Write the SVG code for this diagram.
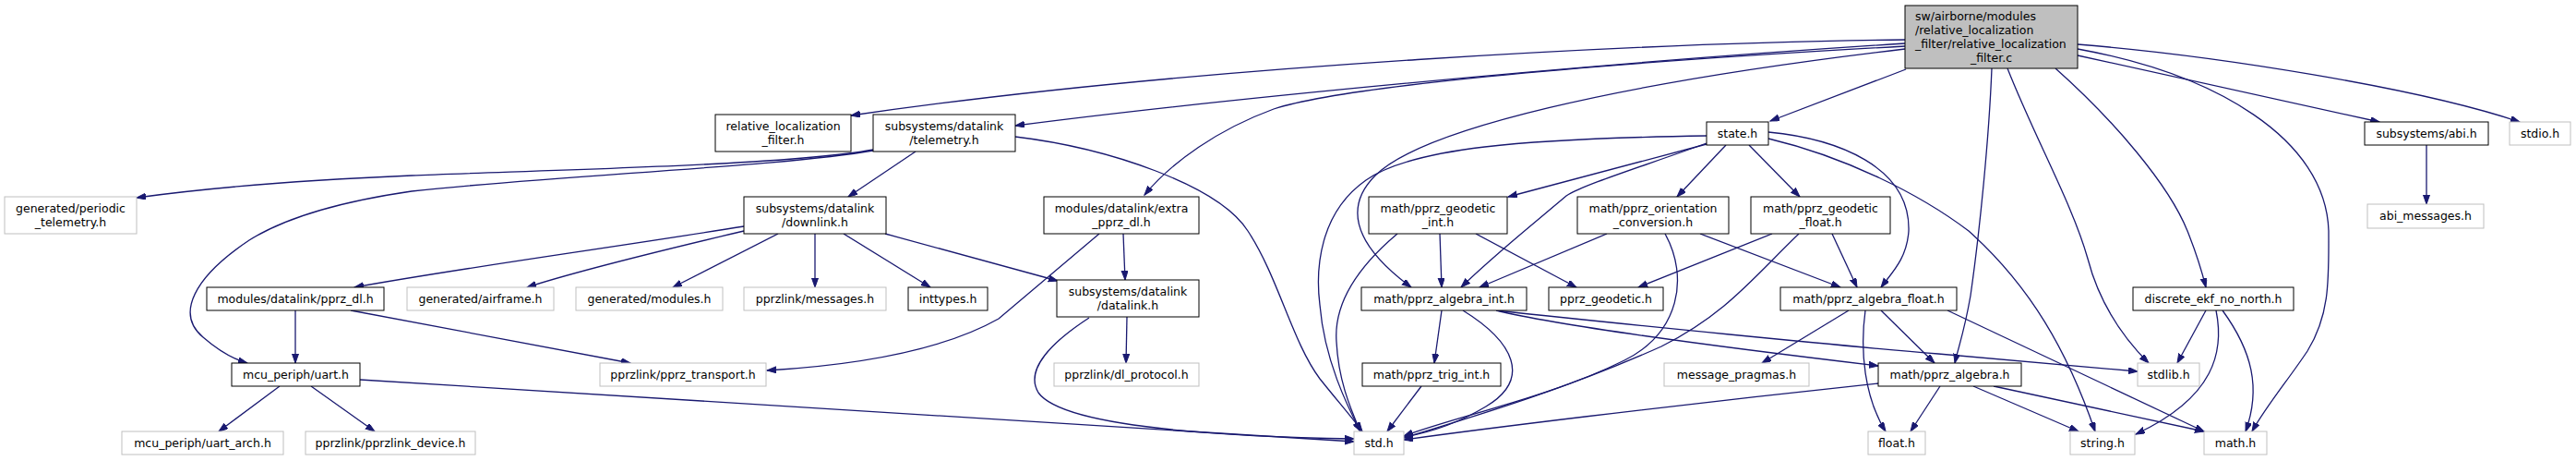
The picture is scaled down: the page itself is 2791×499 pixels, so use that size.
<svg xmlns="http://www.w3.org/2000/svg" width="2791" height="499" viewBox="0 0 2791 499">
<style>
rect{fill:#ffffff;stroke:#000000;stroke-width:1}
.u rect{stroke:#bfbfbf}
.m rect{fill:#bfbfbf}
text{font-family:"DejaVu Sans","Liberation Sans",sans-serif;font-size:12.5px;fill:#000;text-anchor:middle}
.l{text-anchor:start}
#edges path{fill:none;stroke:#191970;stroke-width:1.3;marker-end:url(#ah)}
</style>
<defs>
<marker id="ah" markerUnits="userSpaceOnUse" markerWidth="12" markerHeight="9" refX="10" refY="3.5" orient="auto">
<path d="M0,0 L10,3.5 L0,7 z" fill="#191970" stroke="#191970" stroke-width="1"/>
</marker>
</defs>
<rect x="0" y="0" width="2791" height="499" style="fill:#fff;stroke:none"/>
<g id="edges">
<path d="M2064,43 C1800,46 1300,70 922,125"/>
<path d="M2064,47 C1700,70 1300,110 1100,136"/>
<path d="M2064,50 C1700,70 1450,95 1380,118 C1320,140 1270,175 1240,211"/>
<path d="M2065,75 L1918,131"/>
<path d="M2064,53 C1750,90 1540,140 1490,190 C1460,220 1460,260 1529,311"/>
<path d="M2158,74 C2155,150 2145,250 2135,320 C2128,360 2122,375 2118,393"/>
<path d="M2175,74 C2205,150 2245,220 2262,280 C2275,330 2300,365 2328,393"/>
<path d="M2227,74 C2290,130 2350,200 2370,250 C2380,275 2386,295 2390,311"/>
<path d="M2251,53 C2400,80 2520,150 2523,250 C2523,300 2525,340 2500,380 C2480,410 2455,440 2440,467"/>
<path d="M2251,60 L2578,132"/>
<path d="M2251,48 C2400,60 2620,95 2730,132"/>
<path d="M1849,156 L1634,213"/>
<path d="M1870,157 L1817,213"/>
<path d="M1895,157 L1950,213"/>
<path d="M1849,155 C1780,180 1715,200 1697,212 C1670,235 1620,275 1583,311"/>
<path d="M1916,143 C1990,150 2070,180 2068,250 C2066,280 2050,295 2038,311"/>
<path d="M1916,150 C2000,170 2080,210 2133,250 C2200,310 2240,380 2270,467"/>
<path d="M1849,147 C1650,150 1530,160 1480,195 C1430,230 1425,290 1430,330 C1435,390 1460,440 1474,467"/>
<path d="M946,162 C850,180 550,185 446,190 C350,194 250,200 148,214"/>
<path d="M946,163 C850,180 600,190 446,207 C370,218 310,235 270,260 C210,300 190,340 220,365 C235,378 250,388 268,393"/>
<path d="M992,164 L919,213"/>
<path d="M1100,148 C1200,160 1320,200 1352,250 C1385,300 1400,370 1430,410 C1450,435 1465,452 1476,467"/>
<path d="M806,245 C650,270 500,290 384,311"/>
<path d="M806,250 C700,275 620,295 571,311"/>
<path d="M843,253 L729,311"/>
<path d="M883,253 L883,311"/>
<path d="M914,253 L1008,311"/>
<path d="M959,253 L1146,304"/>
<path d="M1217,253 L1219,303"/>
<path d="M1191,253 L1082,345 C1020,380 930,395 831,401"/>
<path d="M320,336 L320,393"/>
<path d="M380,336 L683,393"/>
<path d="M303,418 L237,467"/>
<path d="M337,418 L406,467"/>
<path d="M390,411 C800,436 1200,463 1467,478"/>
<path d="M1221,343 L1220,393"/>
<path d="M1180,344 C1140,370 1110,400 1125,425 C1150,460 1300,472 1467,475"/>
<path d="M1560,253 L1562,311"/>
<path d="M1599,253 L1708,311"/>
<path d="M1514,253 C1470,290 1445,330 1448,370 C1450,410 1462,440 1474,467"/>
<path d="M1741,253 L1603,311"/>
<path d="M1842,253 L1994,311"/>
<path d="M1804,253 C1830,300 1820,360 1760,390 C1680,430 1580,450 1521,472"/>
<path d="M1920,253 L1775,311"/>
<path d="M1985,253 L2012,311"/>
<path d="M1949,253 C1900,300 1870,340 1800,375 C1700,420 1600,450 1521,474"/>
<path d="M1562,336 L1554,393"/>
<path d="M1585,336 C1640,370 1660,410 1610,440 C1580,458 1550,468 1521,473"/>
<path d="M1621,336 C1700,355 1900,380 2035,396"/>
<path d="M1621,336 C1750,350 2000,375 2100,383 L2316,402"/>
<path d="M1540,418 L1503,467"/>
<path d="M2003,336 L1909,393"/>
<path d="M2021,336 C2015,380 2020,430 2043,467"/>
<path d="M2038,336 L2096,393"/>
<path d="M2110,336 L2388,467"/>
<path d="M2035,415 C1800,440 1600,465 1521,476"/>
<path d="M2102,418 L2070,467"/>
<path d="M2138,418 L2252,467"/>
<path d="M2160,418 L2388,467"/>
<path d="M2390,336 L2359,393"/>
<path d="M2401,336 C2410,380 2400,430 2314,470"/>
<path d="M2408,336 C2440,380 2450,420 2433,467"/>
<path d="M2629,157 L2629,221"/>
</g>
<g id="n_main" class="m"><rect x="2064" y="6" width="187" height="68"/><text class="l" x="2075" y="22">sw/airborne/modules</text><text class="l" x="2075" y="37">/relative_localization</text><text class="l" x="2075" y="52">_filter/relative_localization</text><text x="2157.5" y="67">_filter.c</text></g>
<g id="n_relfilter"><rect x="775" y="124" width="147" height="40"/><text x="848.5" y="140.5">relative_localization</text><text x="848.5" y="155.5">_filter.h</text></g>
<g id="n_telemetry"><rect x="946" y="124" width="154" height="40"/><text x="1023" y="140.5">subsystems/datalink</text><text x="1023" y="155.5">/telemetry.h</text></g>
<g id="n_state"><rect x="1849" y="132" width="67" height="25"/><text x="1882.5" y="148.5">state.h</text></g>
<g id="n_abi"><rect x="2562" y="132" width="134" height="25"/><text x="2629" y="148.5">subsystems/abi.h</text></g>
<g id="n_stdio" class="u"><rect x="2719" y="132" width="66" height="25"/><text x="2752" y="148.5">stdio.h</text></g>
<g id="n_periodic" class="u"><rect x="5" y="213" width="143" height="40"/><text x="76.5" y="229.5">generated/periodic</text><text x="76.5" y="244.5">_telemetry.h</text></g>
<g id="n_downlink"><rect x="806" y="213" width="154" height="40"/><text x="883" y="229.5">subsystems/datalink</text><text x="883" y="244.5">/downlink.h</text></g>
<g id="n_extra"><rect x="1131" y="213" width="168" height="40"/><text x="1215" y="229.5">modules/datalink/extra</text><text x="1215" y="244.5">_pprz_dl.h</text></g>
<g id="n_geoint"><rect x="1483" y="213" width="150" height="40"/><text x="1558" y="229.5">math/pprz_geodetic</text><text x="1558" y="244.5">_int.h</text></g>
<g id="n_orient"><rect x="1709" y="213" width="164" height="40"/><text x="1791" y="229.5">math/pprz_orientation</text><text x="1791" y="244.5">_conversion.h</text></g>
<g id="n_geofloat"><rect x="1897" y="213" width="151" height="40"/><text x="1972.5" y="229.5">math/pprz_geodetic</text><text x="1972.5" y="244.5">_float.h</text></g>
<g id="n_abimsg" class="u"><rect x="2565" y="221" width="126" height="26"/><text x="2628" y="238">abi_messages.h</text></g>
<g id="n_pprzdl"><rect x="224" y="311" width="192" height="25"/><text x="320" y="327.5">modules/datalink/pprz_dl.h</text></g>
<g id="n_airframe" class="u"><rect x="441" y="311" width="159" height="25"/><text x="520.5" y="327.5">generated/airframe.h</text></g>
<g id="n_modules" class="u"><rect x="624" y="311" width="159" height="25"/><text x="703.5" y="327.5">generated/modules.h</text></g>
<g id="n_messages" class="u"><rect x="806" y="311" width="154" height="25"/><text x="883" y="327.5">pprzlink/messages.h</text></g>
<g id="n_inttypes"><rect x="984" y="311" width="86" height="25"/><text x="1027" y="327.5">inttypes.h</text></g>
<g id="n_datalink"><rect x="1145" y="303" width="154" height="40"/><text x="1222" y="319.5">subsystems/datalink</text><text x="1222" y="334.5">/datalink.h</text></g>
<g id="n_algint"><rect x="1475" y="311" width="179" height="25"/><text x="1564.5" y="327.5">math/pprz_algebra_int.h</text></g>
<g id="n_geodetic"><rect x="1678" y="311" width="124" height="25"/><text x="1740" y="327.5">pprz_geodetic.h</text></g>
<g id="n_algfloat"><rect x="1929" y="311" width="191" height="25"/><text x="2024.5" y="327.5">math/pprz_algebra_float.h</text></g>
<g id="n_ekf"><rect x="2311" y="311" width="174" height="25"/><text x="2398" y="327.5">discrete_ekf_no_north.h</text></g>
<g id="n_uart"><rect x="251" y="393" width="139" height="25"/><text x="320.5" y="409.5">mcu_periph/uart.h</text></g>
<g id="n_transport" class="u"><rect x="650" y="393" width="180" height="25"/><text x="740" y="409.5">pprzlink/pprz_transport.h</text></g>
<g id="n_dlproto" class="u"><rect x="1142" y="393" width="157" height="25"/><text x="1220.5" y="409.5">pprzlink/dl_protocol.h</text></g>
<g id="n_trig"><rect x="1476" y="393" width="150" height="25"/><text x="1551" y="409.5">math/pprz_trig_int.h</text></g>
<g id="n_pragmas" class="u"><rect x="1803" y="393" width="157" height="25"/><text x="1881.5" y="409.5">message_pragmas.h</text></g>
<g id="n_alg"><rect x="2035" y="393" width="155" height="25"/><text x="2112.5" y="409.5">math/pprz_algebra.h</text></g>
<g id="n_stdlib" class="u"><rect x="2316" y="393" width="67" height="25"/><text x="2349.5" y="409.5">stdlib.h</text></g>
<g id="n_uartarch" class="u"><rect x="132" y="467" width="175" height="25"/><text x="219.5" y="483.5">mcu_periph/uart_arch.h</text></g>
<g id="n_device" class="u"><rect x="331" y="467" width="184" height="25"/><text x="423" y="483.5">pprzlink/pprzlink_device.h</text></g>
<g id="n_std" class="u"><rect x="1467" y="467" width="54" height="25"/><text x="1494" y="483.5">std.h</text></g>
<g id="n_float" class="u"><rect x="2024" y="467" width="62" height="25"/><text x="2055" y="483.5">float.h</text></g>
<g id="n_string" class="u"><rect x="2243" y="467" width="70" height="25"/><text x="2278" y="483.5">string.h</text></g>
<g id="n_math" class="u"><rect x="2388" y="467" width="68" height="25"/><text x="2422" y="483.5">math.h</text></g>
</svg>
